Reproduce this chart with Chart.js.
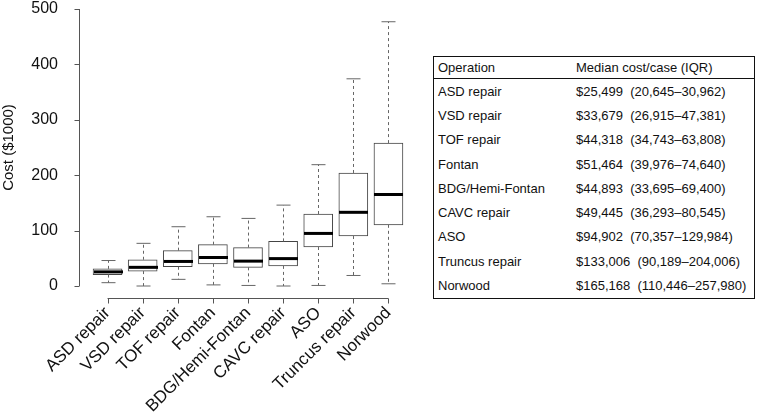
<!DOCTYPE html>
<html>
<head>
<meta charset="utf-8">
<script src="https://cdn.jsdelivr.net/npm/chart.js@4"></script>
<style>
  body { margin: 0; background: #fff; font-family: "Liberation Sans", Arial, sans-serif; }
  #wrap { position: relative; width: 762px; height: 414px; }
  #chartBox { position: absolute; left: 0; top: 0; width: 430px; height: 414px; }
  #costTable {
    position: absolute; left: 433px; top: 56px; width: 322px;
    border-collapse: collapse; border: 1.5px solid #111; font-size: 13px; color: #111;
  }
  #costTable th, #costTable td { text-align: left; font-weight: normal; padding: 0 0 0 4px; height: 24.3px; white-space: pre; }
  #costTable th { height: 21px; border-bottom: 1.5px solid #111; }
  #costTable td.c2, #costTable th.c2 { padding-left: 0; }
</style>
</head>
<body>
<div id="wrap">
  <div id="chartBox"><canvas id="costChart"></canvas></div>
  <table id="costTable"><thead><tr><th style="width:138px">Operation</th><th class="c2">Median cost/case (IQR)</th></tr></thead><tbody></tbody></table>
</div>
<script>
const operations = ['ASD repair', 'VSD repair', 'TOF repair', 'Fontan', 'BDG/Hemi-Fontan', 'CAVC repair', 'ASO', 'Truncus repair', 'Norwood'];
// dollars, from the table
const medians = [25499, 33679, 44318, 51464, 44893, 49445, 94902, 133006, 165168];
const q1 = [20645, 26915, 34743, 39976, 33695, 36293, 70357, 90189, 110446];
const q3 = [30962, 47381, 63808, 74640, 69400, 80545, 129984, 204006, 257980];
// whisker ends in $1000
const whiskerLow = [6, 0, 12, 2, 1, 0, 1, 19, 4];
const whiskerHigh = [46, 77, 107, 125, 122, 146, 219, 374, 477];
const yTicks = [0, 100, 200, 300, 400, 500];

const fmt = n => n.toLocaleString('en-US');

// table on the right
const tbody = document.querySelector('#costTable tbody');
operations.forEach((op, i) => {
    const tr = document.createElement('tr');
    tr.innerHTML = '<td>' + op + '</td><td class="c2">$' + fmt(medians[i]) + '  (' + fmt(q1[i]) + '\u2013' + fmt(q3[i]) + ')</td>';
    tbody.appendChild(tr);
});

const boxExtras = {
    id: 'boxExtras',
    afterDatasetsDraw(chart) {
        const c = chart.ctx;
        const xs = chart.scales.x, ys = chart.scales.y;
        const meta = chart.getDatasetMeta(0);
        c.save();
        operations.forEach((op, i) => {
            const x = Math.round(xs.getPixelForValue(i)) + 0.5;
            const half = meta.data[i].width / 2;
            const yLo = ys.getPixelForValue(whiskerLow[i]);
            const yHi = ys.getPixelForValue(whiskerHigh[i]);
            const yQ1 = ys.getPixelForValue(q1[i] / 1000);
            const yQ3 = ys.getPixelForValue(q3[i] / 1000);
            // dashed whiskers
            c.strokeStyle = '#666';
            c.lineWidth = 1;
            c.setLineDash([3, 3]);
            c.beginPath();
            c.moveTo(x, yQ3); c.lineTo(x, yHi);
            c.moveTo(x, yQ1); c.lineTo(x, yLo);
            c.stroke();
            c.setLineDash([]);
            // caps
            c.beginPath();
            c.moveTo(x - 7, yHi); c.lineTo(x + 7, yHi);
            c.moveTo(x - 7, yLo); c.lineTo(x + 7, yLo);
            c.stroke();
            // median
            const yMed = ys.getPixelForValue(medians[i] / 1000);
            c.strokeStyle = '#000';
            c.lineWidth = 3;
            c.beginPath();
            c.moveTo(x - half, yMed); c.lineTo(x + half, yMed);
            c.stroke();
        });
        // R style axes, detached from the plot
        c.strokeStyle = '#555';
        c.lineWidth = 1;
        const axX = 79.5;
        c.beginPath();
        c.moveTo(axX, ys.getPixelForValue(0)); c.lineTo(axX, ys.getPixelForValue(500));
        yTicks.forEach(v => {
            const y = Math.round(ys.getPixelForValue(v)) + 0.5;
            c.moveTo(axX - 5, y); c.lineTo(axX, y);
        });
        const axY = 298.5;
        c.moveTo(xs.getPixelForValue(0), axY); c.lineTo(xs.getPixelForValue(operations.length - 1), axY);
        operations.forEach((op, i) => {
            const x = Math.round(xs.getPixelForValue(i)) + 0.5;
            c.moveTo(x, axY); c.lineTo(x, axY + 5);
        });
        c.stroke();
        c.restore();
    }
};

const ctx = document.getElementById('costChart').getContext('2d');
new Chart(ctx, {
    type: 'bar',
    data: {
        labels: operations,
        datasets: [{
            data: operations.map((op, i) => [q1[i] / 1000, q3[i] / 1000]),
            backgroundColor: '#fff',
            borderColor: '#444',
            borderWidth: 1,
            borderSkipped: false,
            barThickness: 29
        }]
    },
    options: {
        responsive: true,
        maintainAspectRatio: false,
        animation: false,
        layout: { padding: { top: 9, right: 24, left: 0, bottom: 0 } },
        plugins: { legend: { display: false }, tooltip: { enabled: false } },
        scales: {
            x: {
                offset: true,
                grid: { display: false, drawTicks: false },
                border: { display: false },
                ticks: { minRotation: 45, maxRotation: 45, padding: 17, color: '#111', font: { family: 'Liberation Sans', size: 17 } },
                afterFit(s) { s.height = 128; }
            },
            y: {
                min: 0, max: 500,
                grid: { display: false, drawTicks: false },
                border: { display: false },
                afterBuildTicks(s) { s.ticks = yTicks.map(v => ({ value: v })); },
                ticks: { padding: 32, color: '#111', font: { family: 'Liberation Sans', size: 16 } },
                title: { display: true, text: 'Cost ($1000)', padding: 0, color: '#111', font: { family: 'Liberation Sans', size: 15 } },
                afterFit(s) { s.width = 90; s.paddingTop = 0; s.paddingBottom = 0; }
            }
        }
    },
    plugins: [boxExtras]
});
</script>
</body>
</html>
